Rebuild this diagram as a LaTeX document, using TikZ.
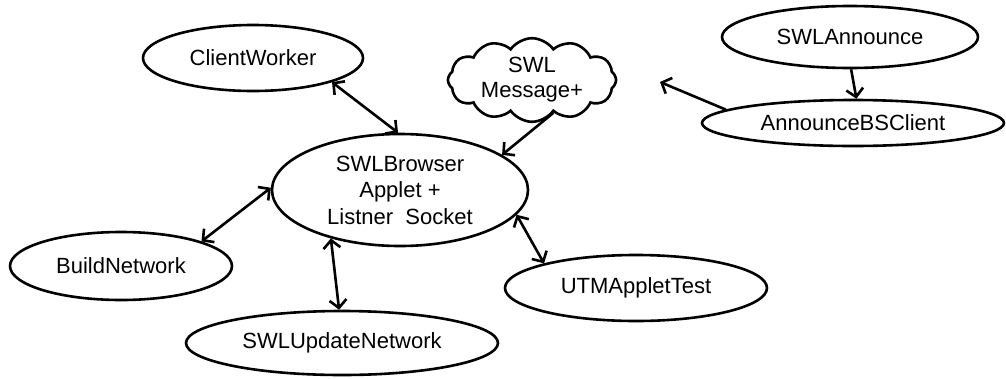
\documentclass[tikz,border=0pt]{standalone}
\usepackage{fontspec}
\setmainfont{Liberation Sans}
\usetikzlibrary{shapes.geometric,shapes.symbols,arrows.meta}
\tikzset{
  oval/.style={ellipse, draw, line width=2.6pt, inner sep=0pt, fill=white,
               font=\fontsize{22}{26.5}\selectfont, align=center},
  puff/.style={cloud, draw, line width=2.6pt, cloud puffs=12, cloud puff arc=110,
               aspect=2.6, inner sep=0pt, fill=white,
               font=\fontsize{22}{25}\selectfont, align=center},
  link/.style={line width=2.6pt, {Straight Barb[length=8pt,width=17pt]}-{Straight Barb[length=8pt,width=17pt]}},
  oneway/.style={line width=2.6pt, -{Straight Barb[length=8pt,width=17pt]}}
}
\begin{document}
\begin{tikzpicture}[x=1pt,y=-1pt]
\useasboundingbox (0,0) rectangle (1006,378);

\node[oval, minimum width=220pt, minimum height=66pt] (cw) at (253,58) {ClientWorker};
\node[oval, minimum width=256pt, minimum height=112pt] (br) at (400,190)
  {SWLBrowser\\Applet +\\Listner\ \ Socket};
\node[puff, minimum width=168pt, minimum height=66pt] (msg) at (532,80) {SWL\\Message+};
\node[oval, minimum width=256pt, minimum height=62pt] (ann) at (850,37) {SWLAnnounce};
\node[oval, minimum width=302pt, minimum height=46pt] (abs) at (853,123) {AnnounceBSClient};
\node[oval, minimum width=222pt, minimum height=68pt] (bn) at (121,266) {BuildNetwork};
\node[oval, minimum width=312pt, minimum height=64pt] (upd) at (342,343) {SWLUpdateNetwork};
\node[oval, minimum width=262pt, minimum height=66pt] (utm) at (636,288) {UTMAppletTest};

\coordinate (msgin) at (660,82);

\draw[link] (cw.-17) -- (br.92);
\draw[oneway] (msg.-57) -- (br.19);
\draw[oneway] (abs.174) -- (msgin);
\draw[oneway] (ann.-88) -- (abs.82);
\draw[link] (bn.17) -- (br.179);
\draw[link] (upd.95) -- (br.-145);
\draw[link] (utm.165) -- (br.-12);
\end{tikzpicture}
\end{document}
